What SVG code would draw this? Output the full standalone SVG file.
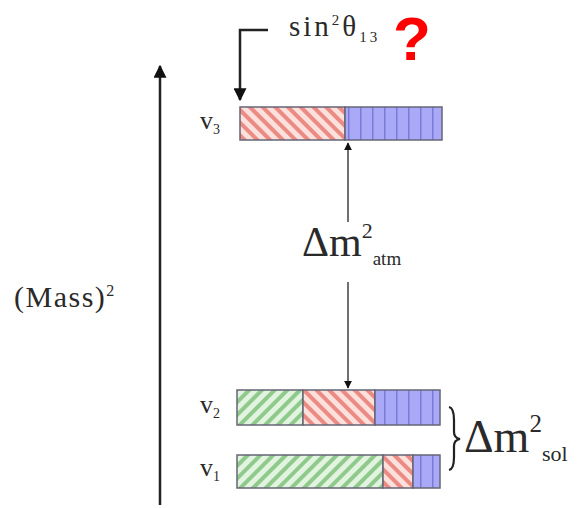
<svg xmlns="http://www.w3.org/2000/svg" width="587" height="508" viewBox="0 0 587 508">
<style>
.t{font-family:"Liberation Serif","Times New Roman",serif;fill:#2a2a2a}
.bar{stroke:#667;stroke-width:1.5}
.ln{stroke:#222;fill:none}
</style>
<defs>
<pattern id="red" patternUnits="userSpaceOnUse" width="9" height="9" patternTransform="rotate(-45)">
<rect width="9" height="9" fill="#fbe0dc"/>
<rect width="4" height="9" fill="#ec8a84"/>
</pattern>
<pattern id="green" patternUnits="userSpaceOnUse" width="9" height="9" patternTransform="rotate(45)">
<rect width="9" height="9" fill="#e2f4e0"/>
<rect width="4" height="9" fill="#8fca8c"/>
</pattern>
<pattern id="blue" patternUnits="userSpaceOnUse" width="12" height="12">
<rect width="12" height="12" fill="#a9a9f7"/>
<rect width="1.5" height="12" fill="#7a7ad8"/>
</pattern>
<marker id="ah" viewBox="0 0 10 10" refX="9" refY="5" markerUnits="userSpaceOnUse" markerWidth="14" markerHeight="13" orient="auto-start-reverse">
<path d="M0,0 L10,5 L0,10 z" fill="#111"/>
</marker>
<marker id="as" viewBox="0 0 10 10" refX="9" refY="5" markerUnits="userSpaceOnUse" markerWidth="8" markerHeight="8" orient="auto-start-reverse">
<path d="M0,0 L10,5 L0,10 z" fill="#111"/>
</marker>
</defs>
<rect width="587" height="508" fill="#fff"/>

<g id="axis">
<line class="ln" x1="160" y1="505" x2="160" y2="66" stroke-width="2.5" stroke="#555" marker-end="url(#ah)"/>
<text class="t" x="14" y="307" font-size="30" letter-spacing="1.5">(Mass)<tspan font-size="16" dy="-11">2</tspan></text>
</g>

<g id="nu3">
<rect class="bar" x="240" y="107" width="105" height="33" fill="url(#red)"/>
<rect class="bar" x="345" y="107" width="97" height="33" fill="url(#blue)"/>
<text class="t" x="200" y="129" font-size="26">v<tspan font-size="14" dy="5">3</tspan></text>
</g>

<g id="nu2">
<rect class="bar" x="237" y="390" width="66" height="35" fill="url(#green)"/>
<rect class="bar" x="303" y="390" width="72" height="35" fill="url(#red)"/>
<rect class="bar" x="375" y="390" width="65" height="35" fill="url(#blue)"/>
<text class="t" x="200" y="413" font-size="26">v<tspan font-size="14" dy="5">2</tspan></text>
</g>

<g id="nu1">
<rect class="bar" x="237" y="455" width="146" height="33" fill="url(#green)"/>
<rect class="bar" x="383" y="455" width="30" height="33" fill="url(#red)"/>
<rect class="bar" x="413" y="455" width="27" height="33" fill="url(#blue)"/>
<text class="t" x="200" y="476" font-size="26">v<tspan font-size="14" dy="5">1</tspan></text>
</g>

<g id="sin-label">
<text class="t" x="289" y="36" font-size="29" letter-spacing="3">sin<tspan font-size="15" dy="-11">2</tspan><tspan dy="11">θ</tspan><tspan font-size="15" dy="6">13</tspan></text>
<text x="393" y="60" font-size="62" font-weight="bold" fill="#f00" font-family="Liberation Sans, Arial, sans-serif">?</text>
</g>

<g id="atm-label">
<text class="t" x="302" y="256" font-size="42">Δm<tspan font-size="22" dy="-18">2</tspan><tspan font-size="19" dy="27">atm</tspan></text>
</g>

<g id="sol-label">
<text class="t" x="464" y="452" font-size="46">Δm<tspan font-size="25" dy="-20">2</tspan><tspan font-size="22" dy="29">sol</tspan></text>
</g>

<g id="connectors">
<polyline class="ln" points="268,30 240,30 240,100" stroke-width="2.5" marker-end="url(#ah)"/>
<line class="ln" x1="348" y1="222" x2="348" y2="143" stroke-width="1.3" marker-end="url(#as)"/>
<line class="ln" x1="348" y1="282" x2="348" y2="388" stroke-width="1.3" marker-end="url(#as)"/>
<path class="ln" d="M449,407 Q454,408 454,420 L454,432 Q454,438 460,439 Q454,440 454,446 L454,457 Q454,469 449,470" stroke-width="2.2"/>
</g>
</svg>
